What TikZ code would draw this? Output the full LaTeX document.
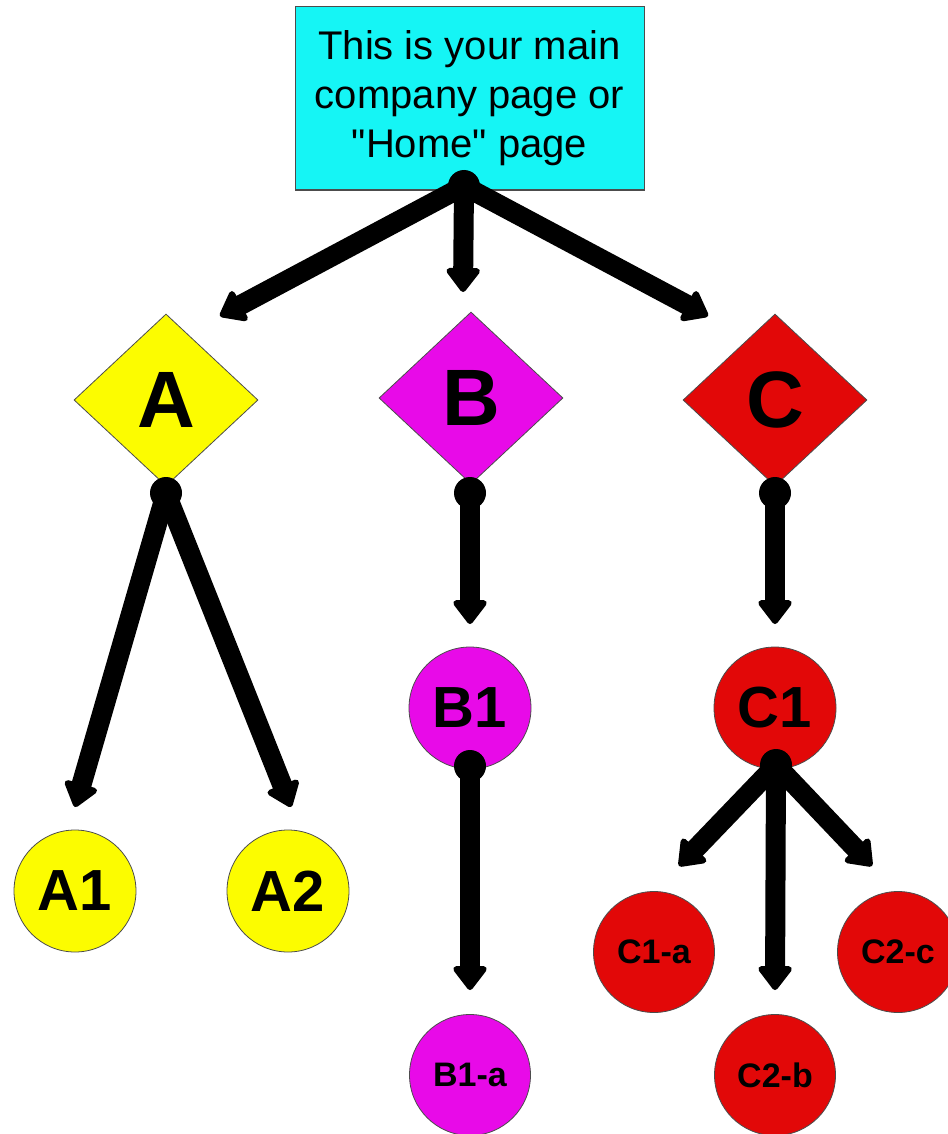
\documentclass[tikz,border=0pt]{standalone}
\usepackage{fontspec}
\setmainfont{Liberation Sans}[Ligatures=TeXOff]
\usetikzlibrary{shapes.geometric,arrows.meta}
\definecolor{homecyan}{RGB}{21,245,245}
\definecolor{ayellow}{RGB}{252,252,0}
\definecolor{bmag}{RGB}{232,10,232}
\definecolor{cred}{RGB}{226,8,8}
\begin{document}
\begin{tikzpicture}[x=1pt,y=-1pt,
  box/.style={draw=black!70, line width=1pt, fill=homecyan, minimum width=349pt, minimum height=183pt, align=center, inner sep=0pt, font=\fontsize{40}{49}\selectfont},
  dia/.style={diamond, draw=black!70, line width=0.8pt, minimum width=184pt, minimum height=172pt, inner sep=0pt, font=\fontsize{80}{80}\selectfont\bfseries},
  bigc/.style={circle, draw=black!70, line width=0.8pt, minimum size=122pt, inner sep=0pt, font=\fontsize{58}{58}\selectfont\bfseries},
  smallc/.style={circle, draw=black!70, line width=0.8pt, minimum size=121pt, inner sep=0pt, font=\fontsize{34}{34}\selectfont\bfseries},
  dotn/.style={circle, fill=black, minimum size=32pt, inner sep=0pt},
  conn/.style={line width=20pt, line join=round, -{Triangle[length=26pt,width=38pt,round,line width=6pt]}}]
\useasboundingbox (0,0) rectangle (947,1134);
\fill[white] (0,0) rectangle (947,1134);
% nodes
\node[box] (home) at (469.5,98.5) {This is your main\\company page or\\"Home" page};
\node[dia, fill=ayellow] (A) at (166,400) {A};
\node[dia, fill=bmag] (B) at (471,398) {B};
\node[dia, fill=cred] (C) at (775,400) {C};
\node[bigc, fill=ayellow] (A1) at (75,891) {A1};
\node[bigc, fill=ayellow] (A2) at (288,891) {A2};
\node[bigc, fill=bmag] (B1) at (470,708) {B1};
\node[bigc, fill=cred] (C1) at (775,708) {C1};
\node[smallc, fill=bmag] (B1a) at (470,1075) {B1-a};
\node[smallc, fill=cred] (C1a) at (654,952) {C1-a};
\node[smallc, fill=cred] (C2b) at (775,1075) {C2-b};
\node[smallc, fill=cred] (C2c) at (898,952) {C2-c};
% arrow tip coordinates
\coordinate (tA) at (220,316);
\coordinate (tB) at (463,292);
\coordinate (tC) at (708,316);
\coordinate (tA1) at (75,807);
\coordinate (tA2) at (291,807);
\coordinate (tB1) at (470,624);
\coordinate (tC1) at (775,624);
\coordinate (tB1a) at (470,990);
\coordinate (tC1a) at (679,866);
\coordinate (tC2b) at (775,990);
\coordinate (tC2c) at (872,866);
% dots
\node[dotn] (dH) at (464,186) {};
\node[dotn] (dA) at (166,493) {};
\node[dotn] (dB) at (470,493) {};
\node[dotn] (dC) at (775,493) {};
\node[dotn] (dB1) at (470,766) {};
\node[dotn] (dC1) at (776,765) {};
% connectors
\draw[conn] (dH.center) -- (tA);
\draw[conn] (dH.center) -- (tB);
\draw[conn] (dH.center) -- (tC);
\draw[conn] (dA.center) -- (tA1);
\draw[conn] (dA.center) -- (tA2);
\draw[conn] (dB.center) -- (tB1);
\draw[conn] (dC.center) -- (tC1);
\draw[conn] (dB1.center) -- (tB1a);
\draw[conn] (dC1.center) -- (tC1a);
\draw[conn] (dC1.center) -- (tC2b);
\draw[conn] (dC1.center) -- (tC2c);
\end{tikzpicture}
\end{document}
